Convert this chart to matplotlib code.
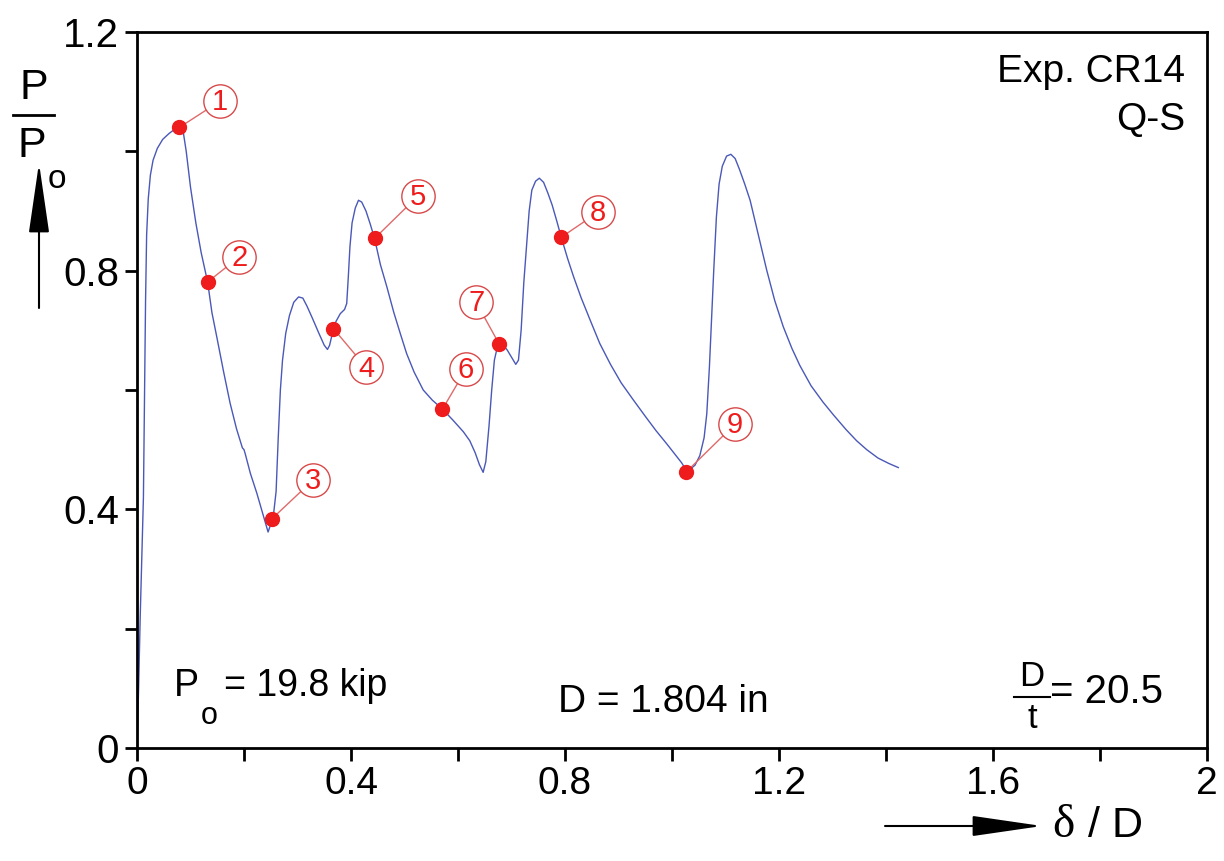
import matplotlib
matplotlib.use("Agg")
import matplotlib.pyplot as plt
from matplotlib.lines import Line2D
from matplotlib.patches import FancyArrowPatch
import numpy as np

plt.rcParams['font.family'] = ['Liberation Sans', 'DejaVu Sans']

# test curve
delta_D = [0.000, 0.003, 0.006, 0.009, 0.012, 0.014, 0.016, 0.018, 0.021, 0.025,
           0.030, 0.038, 0.048, 0.060, 0.072, 0.080, 0.086, 0.092, 0.100, 0.110,
           0.120, 0.132, 0.140, 0.150, 0.162, 0.174, 0.186, 0.197, 0.200, 0.202,
           0.212, 0.224, 0.236, 0.245, 0.250, 0.255, 0.260, 0.264, 0.268, 0.272,
           0.278, 0.285, 0.293, 0.302, 0.310, 0.318, 0.328, 0.340, 0.350, 0.356,
           0.360, 0.366, 0.372, 0.380, 0.388, 0.392, 0.395, 0.398, 0.402, 0.408,
           0.414, 0.420, 0.428, 0.436, 0.444, 0.455, 0.467, 0.480, 0.492, 0.504,
           0.518, 0.535, 0.552, 0.571, 0.590, 0.610, 0.622, 0.632, 0.640, 0.647,
           0.652, 0.658, 0.663, 0.668, 0.673, 0.677, 0.684, 0.692, 0.700, 0.708,
           0.713, 0.718, 0.723, 0.728, 0.733, 0.738, 0.745, 0.752, 0.760, 0.768,
           0.776, 0.785, 0.793, 0.805, 0.816, 0.830, 0.848, 0.865, 0.885, 0.905,
           0.928, 0.950, 0.970, 0.990, 1.005, 1.018, 1.027, 1.035, 1.043, 1.052,
           1.060, 1.065, 1.070, 1.074, 1.078, 1.083, 1.088, 1.094, 1.102, 1.110,
           1.118, 1.126, 1.136, 1.146, 1.160, 1.177, 1.192, 1.208, 1.224, 1.239,
           1.260, 1.282, 1.302, 1.325, 1.345, 1.364, 1.385, 1.405, 1.423]
P_Po = [0.00, 0.10, 0.22, 0.32, 0.42, 0.58, 0.75, 0.86, 0.92, 0.96,
        0.985, 1.005, 1.020, 1.030, 1.038, 1.040, 1.035, 1.000, 0.940, 0.880,
        0.830, 0.781, 0.730, 0.685, 0.630, 0.578, 0.535, 0.503, 0.500, 0.494,
        0.460, 0.427, 0.390, 0.362, 0.375, 0.390, 0.430, 0.520, 0.600, 0.650,
        0.695, 0.725, 0.747, 0.756, 0.754, 0.740, 0.720, 0.695, 0.675, 0.668,
        0.675, 0.698, 0.715, 0.728, 0.735, 0.745, 0.790, 0.840, 0.880, 0.905,
        0.918, 0.915, 0.900, 0.878, 0.854, 0.810, 0.773, 0.730, 0.695, 0.661,
        0.630, 0.600, 0.583, 0.568, 0.550, 0.530, 0.515, 0.495, 0.475, 0.462,
        0.480, 0.540, 0.600, 0.650, 0.670, 0.677, 0.676, 0.667, 0.655, 0.643,
        0.650, 0.700, 0.780, 0.840, 0.900, 0.935, 0.950, 0.955, 0.948, 0.930,
        0.910, 0.882, 0.856, 0.820, 0.790, 0.755, 0.715, 0.678, 0.643, 0.612,
        0.583, 0.556, 0.532, 0.510, 0.493, 0.478, 0.465, 0.468, 0.474, 0.490,
        0.520, 0.560, 0.640, 0.720, 0.800, 0.890, 0.945, 0.975, 0.992, 0.995,
        0.988, 0.970, 0.945, 0.918, 0.865, 0.801, 0.750, 0.706, 0.670, 0.641,
        0.607, 0.580, 0.558, 0.534, 0.515, 0.500, 0.486, 0.477, 0.470]

# numbered points
pt_num = ["1", "2", "3", "4", "5", "6", "7", "8", "9"]
pt_x = [0.079, 0.132, 0.252, 0.367, 0.444, 0.571, 0.677, 0.793, 1.027]
pt_y = [1.040, 0.781, 0.384, 0.703, 0.854, 0.568, 0.677, 0.856, 0.463]
lab_x = [0.155, 0.191, 0.329, 0.428, 0.525, 0.615, 0.634, 0.862, 1.118]
lab_y = [1.084, 0.823, 0.449, 0.638, 0.925, 0.635, 0.747, 0.898, 0.543]

x_ticks = [0, 0.4, 0.8, 1.2, 1.6, 2]
x_ticklabels = ["0", "0.4", "0.8", "1.2", "1.6", "2"]
y_ticks = [0, 0.4, 0.8, 1.2]
y_ticklabels = ["0", "0.4", "0.8", "1.2"]

W, H = 1224, 861
fig = plt.figure(figsize=(W / 100, H / 100), dpi=100)
ax = fig.add_axes([137 / W, 1 - 748 / H, 1070 / W, 716 / H])


def ft(x, y, s, **kw):
    # place text using pixel coords of the picture
    return fig.text(x / W, 1 - y / H, s, **kw)


def arrow(x0, y0, x1, y1):
    fig.add_artist(FancyArrowPatch(
        (x0 / W, 1 - y0 / H), (x1 / W, 1 - y1 / H), transform=fig.transFigure,
        arrowstyle='-|>,head_length=2.2,head_width=0.32', mutation_scale=20,
        color='black', lw=1.5, shrinkA=0, shrinkB=0))


ax.plot(delta_D, P_Po, color='#4a58b8', lw=1.0, zorder=2)

red = '#ee1c1c'
for i in range(len(pt_num)):
    ax.plot([pt_x[i], lab_x[i]], [pt_y[i], lab_y[i]], color='#e06a6a', lw=1.0, zorder=3)
ax.plot(pt_x, pt_y, 'o', color=red, ms=10, mec=red, zorder=5)
ax.plot(lab_x, lab_y, 'o', ms=24, mfc='white', mec='#d84a4a', mew=1.0, zorder=4, ls='none')
for i in range(len(pt_num)):
    ax.text(lab_x[i], lab_y[i] - 0.002, pt_num[i], color=red, fontsize=21,
            ha='center', va='center', zorder=6)

ax.set_xlim(0, 2)
ax.set_ylim(0, 1.2)
ax.set_xticks(x_ticks)
ax.set_xticklabels(x_ticklabels, fontsize=28)
ax.set_xticks(np.arange(0.2, 2.0, 0.4), minor=True)
ax.set_yticks(y_ticks)
ax.set_yticklabels(y_ticklabels, fontsize=29)
ax.set_yticks([0.2, 0.6, 1.0], minor=True)
ax.tick_params(which='both', direction='out', length=9, width=2, top=False, right=False)
ax.tick_params(axis='x', pad=4)
ax.tick_params(axis='y', pad=4)
for s in ax.spines.values():
    s.set_linewidth(2)

# top right
ft(1185, 72, "Exp. CR14", fontsize=28, ha='right', va='center')
ft(1185, 120, "Q-S", fontsize=28, ha='right', va='center')

# y axis label  P / Po with arrow
ft(34, 88, "P", fontsize=31, ha='center', va='center')
fig.add_artist(Line2D([13 / W, 54 / W], [1 - 115 / H, 1 - 115 / H], color='black', lw=2))
ft(32, 146, "P", fontsize=31, ha='center', va='center')
ft(57, 180, "o", fontsize=24, ha='center', va='center')
arrow(39, 308, 39, 163)

# bottom texts
ft(174, 686, "P", fontsize=27, ha='left', va='center')
ft(209, 716, "o", fontsize=22, ha='center', va='center')
ft(224, 686, "= 19.8 kip", fontsize=27, ha='left', va='center')
ft(663, 702, "D = 1.804 in", fontsize=28, ha='center', va='center')
ft(1032, 677, "D", fontsize=25, ha='center', va='center')
fig.add_artist(Line2D([1014 / W, 1050 / W], [1 - 697 / H, 1 - 697 / H], color='black', lw=1.5))
ft(1032, 718, "t", fontsize=25, ha='center', va='center')
ft(1050, 692, "= 20.5", fontsize=29, ha='left', va='center')

# x axis label with arrow
arrow(885, 826, 1042, 826)
ft(1052, 826, "\u03b4", fontsize=34, family=['Liberation Serif', 'DejaVu Serif'],
   ha='left', va='center')
ft(1088, 826, "/ D", fontsize=31, ha='left', va='center')

fig.savefig("out.png", dpi=100, facecolor='white')
